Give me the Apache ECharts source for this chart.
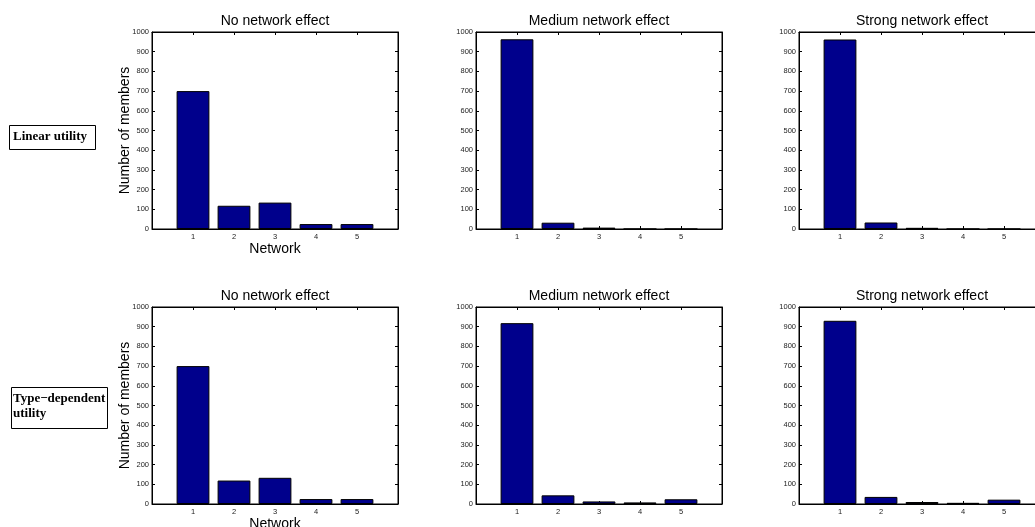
<!DOCTYPE html>
<html>
<head>
<meta charset="utf-8">
<script src="https://cdn.jsdelivr.net/npm/echarts@6/dist/echarts.min.js"></script>
<style>
  html, body { margin: 0; padding: 0; background: #fff; }
  #chart { width: 1035px; height: 527px; }
</style>
</head>
<body>
<div id="chart"></div>
<script>
// data
const networks = [1, 2, 3, 4, 5];
const panelTitles = ["No network effect", "Medium network effect", "Strong network effect"];
const rowLabels = ["Linear utility", "Type\u2212dependent\nutility"];
const yTicks = [0, 100, 200, 300, 400, 500, 600, 700, 800, 900, 1000];

const linearNone = [700, 118, 134, 25, 25];
const linearMedium = [963, 32, 7, 0, 0];
const linearStrong = [962, 33, 6, 0, 0];
const typeNone = [700, 119, 133, 25, 25];
const typeMedium = [918, 44, 13, 8, 24];
const typeStrong = [930, 36, 10, 6, 22];

const rows = [
  [linearNone, linearMedium, linearStrong],
  [typeNone, typeMedium, typeStrong],
];

const chart = echarts.init(document.getElementById("chart"));

const colLeft = [152, 476, 799];
const rowTop = [32, 307];
const gridW = 246;
const gridH = 197;
const barW = (gridW / 6) * 0.8;
const tickColor = "#000";
const labelColor = "#222";
const FONT = "'Liberation Sans', Arial, sans-serif";
const SERIF = "bold 13px 'Liberation Serif', 'Times New Roman', serif";

const grids = [], xAxes = [], yAxes = [], series = [], titles = [];

rows.forEach((row, r) => {
  row.forEach((vals, c) => {
    const gi = grids.length;
    grids.push({
      left: colLeft[c], top: rowTop[r], width: gridW, height: gridH,
      outerBoundsMode: "none", containLabel: false,
      show: true, borderColor: "#000", borderWidth: 1, backgroundColor: "#fff",
    });
    titles.push({
      text: panelTitles[c],
      left: colLeft[c] + gridW / 2, top: rowTop[r] - 18, textAlign: "center",
      padding: 0,
      textStyle: { fontFamily: FONT, fontSize: 14, fontWeight: "normal", color: "#000" },
    });
    // bottom x axis
    xAxes.push({
      gridIndex: gi, type: "value", min: 0, max: 6, interval: 1,
      position: "bottom",
      name: c === 0 ? "Network" : "",
      nameLocation: "middle", nameGap: 13, nameMoveOverlap: false,
      nameTextStyle: { fontFamily: FONT, fontSize: 14, color: "#000" },
      axisLine: { show: true, onZero: false, lineStyle: { color: tickColor, width: 1 } },
      axisTick: { show: true, inside: true, length: 3, lineStyle: { color: tickColor } },
      axisLabel: {
        show: true, margin: 4, fontFamily: FONT, fontSize: 7.5, color: labelColor,
        formatter: (v) => (networks.includes(v) ? String(v) : ""),
      },
      splitLine: { show: false },
    });
    // top x axis (ticks only)
    xAxes.push({
      gridIndex: gi, type: "value", min: 0, max: 6, interval: 1,
      position: "top",
      axisLine: { show: true, onZero: false, lineStyle: { color: tickColor, width: 1 } },
      axisTick: { show: true, inside: true, length: 3, lineStyle: { color: tickColor } },
      axisLabel: { show: false },
      splitLine: { show: false },
    });
    // left y axis
    yAxes.push({
      gridIndex: gi, type: "value", min: 0, max: 1000, interval: 100,
      position: "left",
      name: c === 0 ? "Number of members" : "",
      nameLocation: "middle", nameGap: 20, nameRotate: 90, nameMoveOverlap: false,
      nameTextStyle: { fontFamily: FONT, fontSize: 14, color: "#000" },
      axisLine: { show: true, onZero: false, lineStyle: { color: tickColor, width: 1 } },
      axisTick: { show: true, inside: true, length: 3, lineStyle: { color: tickColor } },
      axisLabel: {
        show: true, margin: 3, fontFamily: FONT, fontSize: 7.5, color: labelColor,
        formatter: (v) => (yTicks.includes(v) ? String(v) : ""),
      },
      splitLine: { show: false },
    });
    // right y axis (ticks only)
    yAxes.push({
      gridIndex: gi, type: "value", min: 0, max: 1000, interval: 100,
      position: "right",
      axisLine: { show: true, onZero: false, lineStyle: { color: tickColor, width: 1 } },
      axisTick: { show: true, inside: true, length: 3, lineStyle: { color: tickColor } },
      axisLabel: { show: false },
      splitLine: { show: false },
    });
    series.push({
      type: "bar",
      xAxisIndex: gi * 2, yAxisIndex: gi * 2,
      barWidth: barW,
      data: networks.map((n, i) => [n, vals[i]]),
      itemStyle: { color: "#00008C", borderColor: "#000", borderWidth: 1 },
      silent: true,
    });
  });
});

const option = {
  animation: false,
  backgroundColor: "#fff",
  title: titles,
  grid: grids,
  xAxis: xAxes,
  yAxis: yAxes,
  series: series,
  graphic: [
    {
      type: "rect", left: 9, top: 125,
      shape: { width: 86, height: 24 },
      style: { fill: "#fff", stroke: "#000", lineWidth: 1 },
    },
    {
      type: "text", left: 13, top: 130,
      style: { text: rowLabels[0], font: SERIF, fill: "#000" },
    },
    {
      type: "rect", left: 11, top: 387,
      shape: { width: 96, height: 41 },
      style: { fill: "#fff", stroke: "#000", lineWidth: 1 },
    },
    {
      type: "text", left: 13, top: 391,
      style: { text: rowLabels[1], font: SERIF, lineHeight: 15, fill: "#000" },
    },
  ],
};

chart.setOption(option);
</script>
</body>
</html>
